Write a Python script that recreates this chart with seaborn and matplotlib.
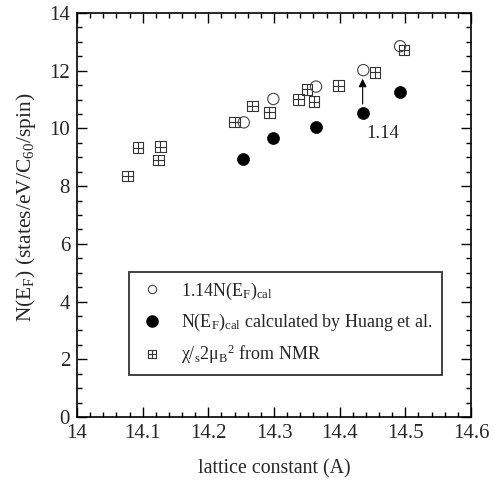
import numpy as np
import pandas as pd
import matplotlib
matplotlib.use("Agg")
import matplotlib.pyplot as plt
from matplotlib.path import Path
from matplotlib.lines import Line2D
from matplotlib.ticker import MultipleLocator
import seaborn as sns

# ---- data ----
open_x = [14.254, 14.299, 14.364, 14.436, 14.492]
open_y = [10.21, 11.02, 11.45, 12.02, 12.85]

filled_x = [14.253, 14.299, 14.364, 14.435, 14.492]
filled_y = [8.94, 9.66, 10.04, 10.54, 11.25]

nmr_x = [14.077, 14.093, 14.127, 14.124, 14.240, 14.267, 14.293, 14.337,
         14.350, 14.361, 14.398, 14.454, 14.498]
nmr_y = [8.35, 9.33, 9.37, 8.90, 10.23, 10.78, 10.56, 11.01,
         11.35, 10.93, 11.48, 11.94, 12.72]

x_ticks = [14, 14.1, 14.2, 14.3, 14.4, 14.5, 14.6]
x_ticklabels = ["14", "14.1", "14.2", "14.3", "14.4", "14.5", "14.6"]
y_ticks = [0, 2, 4, 6, 8, 10, 12, 14]

labels = [r"1.14N(E$_{\rm F}$)$_{\rm cal}$",
          r"N(E$_{\rm F}$)$_{\rm cal}$ calculated by Huang et al.",
          r"χ/$_{\rm s}$2μ$_{\rm B}$$^{2}$ from NMR"]

sns.set_theme(style="ticks")
plt.rcParams["font.family"] = ["Liberation Serif", "DejaVu Serif"]
plt.rcParams["mathtext.fontset"] = "custom"
plt.rcParams["mathtext.rm"] = "Liberation Serif"
plt.rcParams["mathtext.it"] = "Liberation Serif:italic"
plt.rcParams["mathtext.bf"] = "Liberation Serif:bold"

# square with a cross marker
verts = [(-1, -1), (1, -1), (1, 1), (-1, 1), (-1, -1),
         (0, -1), (0, 1), (-1, 0), (1, 0)]
codes = [Path.MOVETO, Path.LINETO, Path.LINETO, Path.LINETO, Path.CLOSEPOLY,
         Path.MOVETO, Path.LINETO, Path.MOVETO, Path.LINETO]
sqcross = Path(verts, codes)

fig = plt.figure(figsize=(4.94, 4.8), dpi=100)
ax = fig.add_axes([77 / 494, 1 - 417 / 480, 394 / 494, 404 / 480])

df_open = pd.DataFrame({"x": open_x, "y": open_y})
df_fill = pd.DataFrame({"x": filled_x, "y": filled_y})
df_nmr = pd.DataFrame({"x": nmr_x, "y": nmr_y})

sns.scatterplot(data=df_nmr, x="x", y="y", ax=ax, marker=sqcross, s=58,
                facecolor="none", edgecolor="#333333", linewidth=0.8, zorder=3)
sns.scatterplot(data=df_open, x="x", y="y", ax=ax, marker="o", s=66,
                facecolor="none", edgecolor="#444444", linewidth=0.8, zorder=3)
sns.scatterplot(data=df_fill, x="x", y="y", ax=ax, marker="o", s=74,
                color="black", edgecolor="black", linewidth=0.5, zorder=4)

# arrow and label "1.14"
ax.annotate("", xy=(filled_x[3], 11.72), xytext=(filled_x[3], 10.85),
            arrowprops=dict(arrowstyle="-|>", color="black", lw=0.8,
                            mutation_scale=12, shrinkA=0, shrinkB=0))
ax.text(14.465, 9.84, "1.14", ha="center", va="center", fontsize=13.5)

ax.set_xlim(14, 14.6)
ax.set_ylim(0, 14)
ax.set_xticks(x_ticks)
ax.set_xticklabels(x_ticklabels)
ax.set_yticks(y_ticks)
ax.xaxis.set_minor_locator(MultipleLocator(0.02))
ax.yaxis.set_minor_locator(MultipleLocator(0.5))
ax.tick_params(which="both", direction="in", top=True, right=True,
               color="black", width=1)
ax.tick_params(which="major", length=7, labelsize=15, pad=5)
ax.tick_params(which="minor", length=3.5)
for sp in ax.spines.values():
    sp.set_color("black")
    sp.set_linewidth(1.2)

ax.set_xlabel("lattice constant (A)", fontsize=14.3, labelpad=12)
ax.set_ylabel(r"N(E$_{\rm F}$) (states/eV/C$_{60}$/spin)", fontsize=15.5)
ax.yaxis.set_label_coords(-0.098, 0.52)

handles = [
    Line2D([], [], linestyle="none", marker="o", markersize=6,
           markerfacecolor="none", markeredgecolor="#444444", markeredgewidth=0.8),
    Line2D([], [], linestyle="none", marker="o", markersize=8,
           markerfacecolor="black", markeredgecolor="black"),
    Line2D([], [], linestyle="none", marker=sqcross, markersize=6,
           markerfacecolor="none", markeredgecolor="#333333", markeredgewidth=0.8),
]
leg = ax.legend(handles, labels, loc="center",
                bbox_to_anchor=(0.132, 0.104, 0.794, 0.255), mode="expand",
                fontsize=13, frameon=True, fancybox=False, shadow=False,
                borderpad=0.5, labelspacing=0.55, handlelength=1.5,
                handletextpad=0.9, borderaxespad=0)
leg.get_frame().set_edgecolor("black")
leg.get_frame().set_linewidth(1.3)

fig.savefig("out.png", dpi=100)
